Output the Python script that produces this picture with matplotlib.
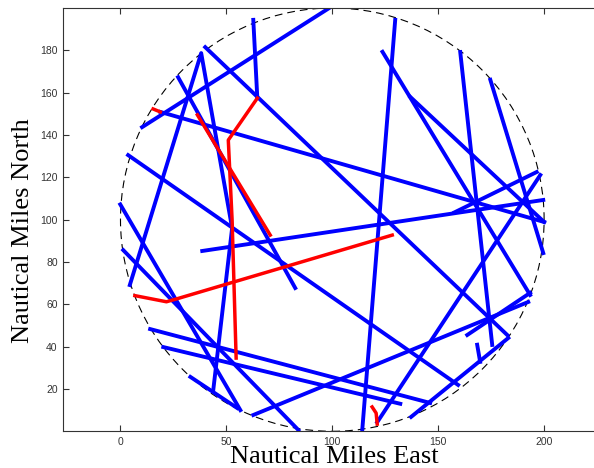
import matplotlib
matplotlib.use('Agg')
import matplotlib.pyplot as plt
from matplotlib.patches import Circle

# surveillance circle (nautical miles)
circle_center = (100, 100)
circle_radius = 100

# blue tracks: east / north of each vertex
track1_east = [10.2, 98.1]
track1_north = [143.7, 199.7]
track2_east = [40.0, 182.6]
track2_north = [181.5, 45.5]
track3_east = [4.4, 38.1, 52.7, 43.8]
track3_north = [69.1, 178.7, 96.0, 19.5]
track4_east = [62.7, 64.6]
track4_north = [194.4, 157.4]
track5_east = [18.8, 200.0]
track5_north = [150.9, 98.9]
track6_east = [-0.1, 56.6]
track6_north = [107.2, 10.0]
track7_east = [1.3, 84.0]
track7_north = [85.6, 0.6]
track8_east = [14.0, 146.2]
track8_north = [48.3, 13.4]
track9_east = [20.2, 132.1]
track9_north = [39.8, 13.0]
track10_east = [62.7, 192.5]
track10_north = [7.7, 61.1]
track11_east = [121.2, 198.2]
track11_north = [4.3, 121.1]
track12_east = [38.6, 199.6]
track12_north = [85.2, 109.3]
track13_east = [136.8, 200.0]
track13_north = [158.0, 98.9]
track14_east = [123.7, 193.4]
track14_north = [179.3, 64.4]
track15_east = [129.7, 114.1]
track15_north = [194.4, 0.1]
track16_east = [160.4, 175.5]
track16_north = [179.2, 40.8]
track17_east = [174.6, 199.6]
track17_north = [166.1, 84.2]
track18_east = [163.7, 193.4]
track18_north = [45.5, 65.4]
track19_east = [168.4, 169.8]
track19_north = [40.9, 32.8]
track20_east = [137.2, 183.1]
track20_north = [6.8, 44.1]
track21_east = [3.6, 159.4]
track21_north = [130.5, 21.9]
track22_east = [27.2, 82.5]
track22_north = [167.3, 67.7]
track23_east = [33.0, 55.1]
track23_north = [25.7, 11.0]
track24_east = [196.5, 157.6]
track24_north = [122.5, 103.4]

# red tracks
red1_east = [64.6, 50.9, 52.7, 54.6]
red1_north = [157.4, 137.6, 99.8, 34.6]
red2_east = [15.4, 18.8]
red2_north = [152.3, 150.9]
red3_east = [36.3, 70.7]
red3_north = [149.5, 92.7]
red4_east = [6.8, 21.7, 26.3, 128.3]
red4_north = [64.1, 61.2, 62.5, 92.7]
red5_east = [118.8, 120.7, 121.2]
red5_north = [11.5, 8.6, 3.4]

x_ticks = [0, 50, 100, 150, 200]
y_ticks = [20, 40, 60, 80, 100, 120, 140, 160, 180]

blue_tracks = [
	(track1_east, track1_north), (track2_east, track2_north), (track3_east, track3_north),
	(track4_east, track4_north), (track5_east, track5_north), (track6_east, track6_north),
	(track7_east, track7_north), (track8_east, track8_north), (track9_east, track9_north),
	(track10_east, track10_north), (track11_east, track11_north), (track12_east, track12_north),
	(track13_east, track13_north), (track14_east, track14_north), (track15_east, track15_north),
	(track16_east, track16_north), (track17_east, track17_north), (track18_east, track18_north),
	(track19_east, track19_north), (track20_east, track20_north), (track21_east, track21_north),
	(track22_east, track22_north), (track23_east, track23_north), (track24_east, track24_north),
]
red_tracks = [
	(red1_east, red1_north), (red2_east, red2_north), (red3_east, red3_north),
	(red4_east, red4_north), (red5_east, red5_north),
]

fig = plt.figure(figsize=(5.94, 4.68), dpi=100)
# axes run a little past the right edge, like the cropped original
ax = fig.add_axes([63.3 / 594, 36.7 / 468, 538 / 594, 423.3 / 468])

ax.add_patch(Circle(circle_center, circle_radius, fill=False, color='black',
	lw=0.8, ls=(0, (7, 4.5)), zorder=1))

for east, north in blue_tracks:
	ax.plot(east, north, color='#0000ff', lw=2.8, zorder=2)

for east, north in red_tracks:
	ax.plot(east, north, color='#ff0000', lw=2.5, zorder=3)

ax.set_xlim(-27, 227)
ax.set_ylim(0, 200)
ax.set_xticks(x_ticks)
ax.set_yticks(y_ticks)
ax.tick_params(direction='in', top=True, right=True, length=4, width=0.8,
	labelsize=7.5, colors='#333333', pad=4)
for lbl in ax.get_xticklabels() + ax.get_yticklabels():
	lbl.set_family('Liberation Sans')
for side in ax.spines:
	ax.spines[side].set_color('#333333')
	ax.spines[side].set_linewidth(0.8)

fig.text(0.5623, 0.0107, 'Nautical Miles East', family='Liberation Serif',
	fontsize=19, ha='center', va='baseline')
fig.text(23.5 / 594, 0.5075, 'Nautical Miles North', family='Liberation Serif',
	fontsize=19, ha='center', va='center', rotation=90)

fig.savefig('out.png', dpi=100)
